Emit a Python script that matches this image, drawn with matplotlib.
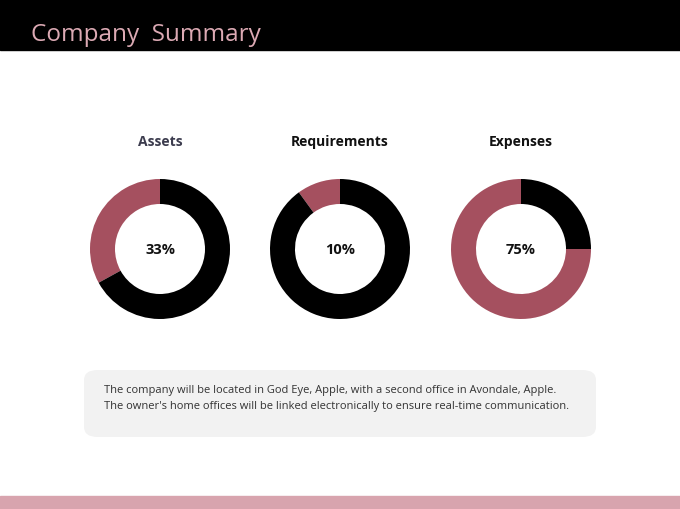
import matplotlib.pyplot as plt
from matplotlib.patches import FancyBboxPatch, Rectangle

plt.rcParams['font.family'] = ['Open Sans', 'DejaVu Sans']

# donut data
names = ["Assets", "Requirements", "Expenses"]
shares = [33, 10, 75]
name_colors = ["#3c3c4e", "#111111", "#111111"]
note_lines = [
    "The company will be located in God Eye, Apple, with a second office in Avondale, Apple.",
    "The owner's home offices will be linked electronically to ensure real-time communication.",
]

pink = "#a5505f"
W, H = 680, 510

fig = plt.figure(figsize=(6.8, 5.1), dpi=100)
fig.patch.set_facecolor("white")

# header band and footer band
fig.patches.append(Rectangle((0, 1 - 51 / H), 1, 51 / H, transform=fig.transFigure,
                             color="black", zorder=0))
fig.patches.append(Rectangle((0, 0), 1, 13 / H, transform=fig.transFigure,
                             color="#d8a4ae", zorder=0))
fig.text(31 / W, 1 - 35 / H, "Company  Summary", color="#dcaab4", fontsize=17.5,
         va="center", ha="left")

centers = [160, 340, 521]
r_out, r_in = 70, 45
for cx, name, share, nc in zip(centers, names, shares, name_colors):
    ax = fig.add_axes([(cx - r_out) / W, 1 - (250 + r_out) / H, 2 * r_out / W, 2 * r_out / H])
    ax.pie([share, 100 - share], colors=[pink, "black"], startangle=90,
           counterclock=True, radius=1,
           wedgeprops=dict(width=(r_out - r_in) / r_out, linewidth=0))
    ax.set_xlim(-1, 1)
    ax.set_ylim(-1, 1)
    ax.text(0, 0, f"{share}%", ha="center", va="center", fontsize=10.5,
            fontweight="bold", color="#111111")
    fig.text(cx / W, 1 - 142 / H, name, ha="center", va="center", fontsize=10,
             fontweight="bold", color=nc)

# note box
box = FancyBboxPatch((84 / W, 1 - 438 / H), (596 - 84) / W, (438 - 371) / H,
                     boxstyle="round,pad=0,rounding_size=0.02",
                     transform=fig.transFigure, facecolor="#f2f2f2",
                     edgecolor="none", zorder=1)
fig.patches.append(box)
for i, line in enumerate(note_lines):
    fig.text(104 / W, 1 - (391 + 16 * i) / H, line, ha="left", va="center",
             fontsize=8.0, color="#333333", zorder=2)

fig.savefig("out.png", dpi=100)
